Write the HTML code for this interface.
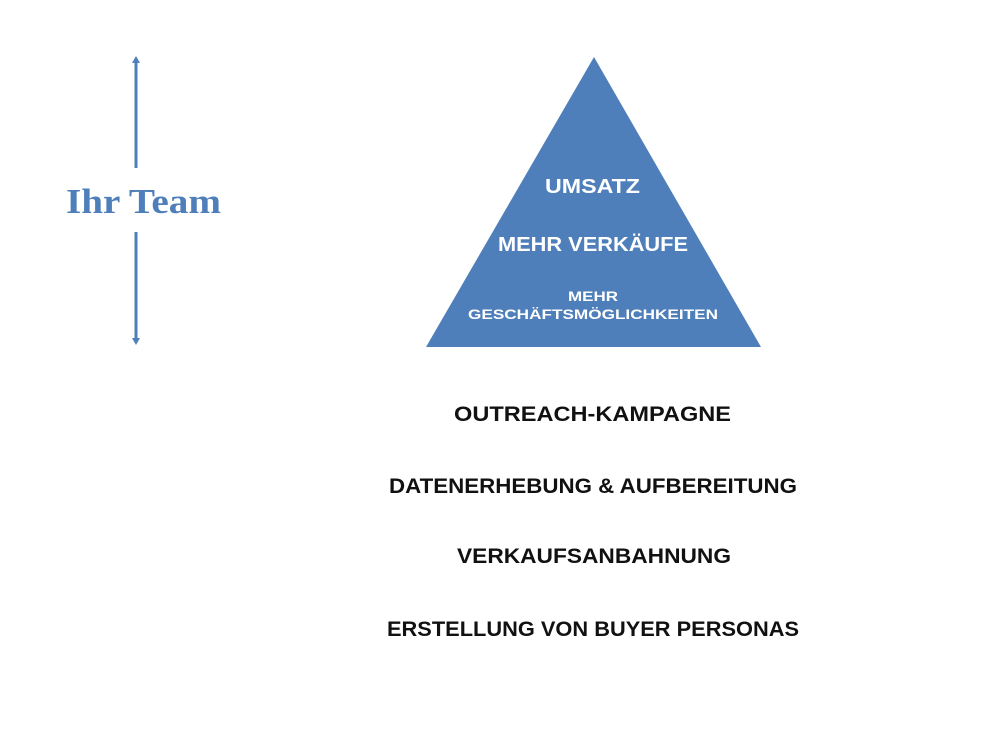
<!DOCTYPE html>
<html><head><meta charset="utf-8"><style>html,body{margin:0;padding:0;background:#fff}svg{display:block}</style></head>
<body>
<svg width="1000" height="736" viewBox="0 0 1000 736" xmlns="http://www.w3.org/2000/svg">
<rect width="1000" height="736" fill="#fff"/>
<g stroke="#4f7fba" stroke-width="3" fill="#4f7fba">
<line x1="136" y1="60" x2="136" y2="168"/>
<line x1="136" y1="232" x2="136" y2="341"/>
</g>
<polygon points="136,56 132,63 140,63" fill="#4f7fba"/>
<polygon points="136,345 132,338 140,338" fill="#4f7fba"/>
<text x="66" y="213" font-family="Liberation Serif, serif" font-size="35" font-weight="bold" fill="#4f7fba" textLength="155" lengthAdjust="spacingAndGlyphs">Ihr Team</text>
<polygon points="594,57 761,347 426,347" fill="#4f7fba"/>
<g font-family="Liberation Sans, sans-serif" font-weight="bold" fill="#fff">
<text x="545" y="193" font-size="20" textLength="95" lengthAdjust="spacingAndGlyphs">UMSATZ</text>
<text x="498" y="251" font-size="20" textLength="190" lengthAdjust="spacingAndGlyphs">MEHR VERKÄUFE</text>
<text x="568" y="301" font-size="14" textLength="50" lengthAdjust="spacingAndGlyphs">MEHR</text>
<text x="468" y="319" font-size="14" textLength="250" lengthAdjust="spacingAndGlyphs">GESCHÄFTSMÖGLICHKEITEN</text>
</g>
<g font-family="Liberation Sans, sans-serif" font-weight="bold" fill="#111" font-size="21">
<text x="454" y="421" textLength="277" lengthAdjust="spacingAndGlyphs">OUTREACH-KAMPAGNE</text>
<text x="389" y="493" textLength="408" lengthAdjust="spacingAndGlyphs">DATENERHEBUNG &amp; AUFBEREITUNG</text>
<text x="457" y="563" textLength="274" lengthAdjust="spacingAndGlyphs">VERKAUFSANBAHNUNG</text>
<text x="387" y="636" textLength="412" lengthAdjust="spacingAndGlyphs">ERSTELLUNG VON BUYER PERSONAS</text>
</g>
</svg>
</body></html>
